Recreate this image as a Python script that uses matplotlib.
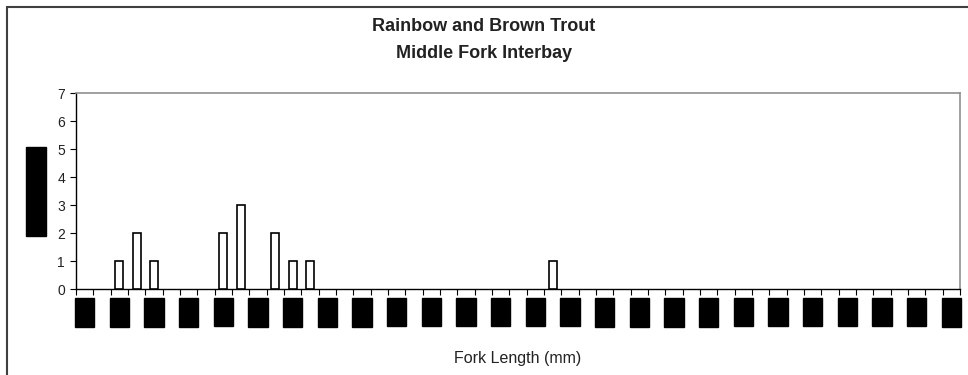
import matplotlib
matplotlib.use("Agg")
import matplotlib.pyplot as plt
from matplotlib.patches import Rectangle
import numpy as np

# fork length bins (mm), 10 mm wide
bins = list(range(100, 610, 10))
counts = [0] * len(bins)
catch = {120: 1, 130: 2, 140: 1,
         180: 2, 190: 3,
         210: 2, 220: 1, 230: 1,
         370: 1}
for length, n in catch.items():
    counts[bins.index(length)] = n

tick_labels = [str(b) for b in bins[::2]]

W, H = 968, 375
fig = plt.figure(figsize=(W / 100, H / 100), dpi=100)
plt.rcParams['font.family'] = ['Liberation Sans', 'DejaVu Sans']

# -----------------------------
# outer chart frame
# -----------------------------
fig.add_artist(Rectangle((7 / W, -0.1), 1.2, 1.1 - 7.3 / H,
                         transform=fig.transFigure, fill=False,
                         edgecolor="#404040", linewidth=1.5))

ax = fig.add_axes([76 / W, 1 - 289.3 / H, (960 - 76) / W, (289.3 - 93.3) / H])

# only draw bins that caught fish, so empty bins leave no outline on the axis
x = np.arange(len(bins))
counts = np.array(counts)
has_fish = counts > 0
ax.bar(x[has_fish], counts[has_fish], width=0.48, color="white",
       edgecolor="black", linewidth=1.2, zorder=3)

ax.set_xlim(-0.5, len(bins) - 0.5)
ax.set_ylim(0, 7)
ax.set_yticks(range(0, 8))
ax.tick_params(axis="y", direction="out", length=4, width=0.8, labelsize=10, pad=4,
               colors="black", labelcolor="#222222")

# ticks sit between categories, labels under every other category
ax.set_xticks(np.arange(-0.5, len(bins), 1.0))
ax.set_xticklabels([])
ax.tick_params(axis="x", which="major", direction="out", length=4, width=0.8)
ax.set_xticks(x[::2], minor=True)
ax.set_xticklabels(tick_labels, minor=True, rotation=90, fontsize=9, color="black",
                   bbox=dict(boxstyle="square,pad=0.3", facecolor="black", edgecolor="black"))
ax.tick_params(axis="x", which="minor", length=0, pad=9)

for side in ["left", "bottom"]:
    ax.spines[side].set_color("black")
    ax.spines[side].set_linewidth(1.0)
for side in ["top", "right"]:
    ax.spines[side].set_color("#909090")
    ax.spines[side].set_linewidth(1.2)

ax.set_xlabel("Fork Length (mm)", fontsize=11.5, labelpad=20, color="#222222")
ax.set_ylabel("Number of Fish", fontsize=8.5, labelpad=11, color="black",
              bbox=dict(boxstyle="square,pad=0.35", facecolor="black", edgecolor="black"))

# two-line title
fig.text(0.5, 1 - 26.5 / H, "Rainbow and Brown Trout",
         ha="center", va="center", fontsize=13, fontweight="bold", color="#222222")
fig.text(0.5, 1 - 53 / H, "Middle Fork Interbay",
         ha="center", va="center", fontsize=13, fontweight="bold", color="#222222")

fig.savefig("out.png", dpi=100)
